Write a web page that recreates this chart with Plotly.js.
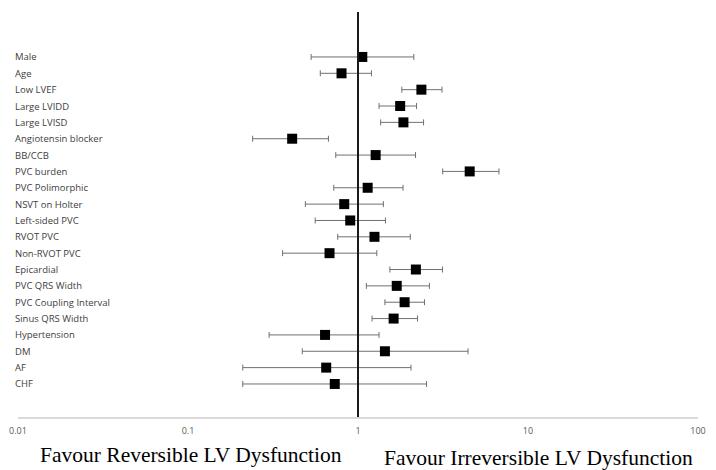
<!DOCTYPE html>
<html>
<head>
<meta charset="utf-8">
<script src="https://cdn.plot.ly/plotly-3.0.1.min.js"></script>
<style>html,body{margin:0;padding:0;background:#fff;}#chart{width:716px;height:470px;}</style>
</head>
<body>
<div id="chart"></div>
<script>
const labels = ["Male","Age","Low LVEF","Large LVIDD","Large LVISD","Angiotensin blocker","BB/CCB","PVC burden","PVC Polimorphic","NSVT on Holter","Left-sided PVC","RVOT PVC","Non-RVOT PVC","Epicardial","PVC QRS Width","PVC Coupling Interval","Sinus QRS Width","Hypertension","DM","AF","CHF"];
const orValues = [1.06,0.80,2.36,1.77,1.85,0.41,1.27,4.54,1.14,0.83,0.90,1.25,0.68,2.19,1.69,1.88,1.62,0.64,1.44,0.65,0.73];
const ciLow    = [0.53,0.60,1.81,1.33,1.36,0.24,0.74,3.15,0.72,0.49,0.56,0.76,0.36,1.54,1.12,1.44,1.21,0.30,0.47,0.21,0.21];
const ciHigh   = [2.13,1.20,3.12,2.21,2.43,0.67,2.18,6.75,1.84,1.41,1.45,2.03,1.29,3.14,2.63,2.46,2.24,1.33,4.44,2.05,2.53];
const tickVals = [0.01,0.1,1,10,100];
const tickText = ["0.01","0.1","1","10","100"];
const leftCaption = "Favour Reversible LV Dysfunction";
const rightCaption = "Favour Irreversible LV Dysfunction";

const rows = labels.map((_, i) => i);
const trace = {
  type: 'scatter', mode: 'markers',
  x: orValues, y: rows,
  marker: {symbol: 'square', size: 10, color: '#000'},
  error_x: {
    type: 'data', symmetric: false,
    array: orValues.map((v, i) => ciHigh[i] - v),
    arrayminus: orValues.map((v, i) => v - ciLow[i]),
    color: '#707070', thickness: 1, width: 3
  },
  hoverinfo: 'none', cliponaxis: false
};

const annotations = labels.map((t, i) => ({
  text: t, xref: 'paper', x: -0.008, xanchor: 'left', yref: 'y', y: i, yanchor: 'middle',
  showarrow: false, font: {family: 'Open Sans, sans-serif', size: 9.5, color: '#404040'}
}));
annotations.push({text: leftCaption, xref: 'paper', yref: 'paper', x: 0.029, y: -0.094, xanchor: 'left', yanchor: 'middle',
  showarrow: false, font: {family: 'Liberation Serif, Times New Roman, serif', size: 21.5, color: '#000'}});
annotations.push({text: rightCaption, xref: 'paper', yref: 'paper', x: 0.536, y: -0.1, xanchor: 'left', yanchor: 'middle',
  showarrow: false, font: {family: 'Liberation Serif, Times New Roman, serif', size: 21.5, color: '#000'}});

const layout = {
  width: 716, height: 470,
  margin: {l: 18, r: 18, t: 12, b: 53},
  paper_bgcolor: '#fff', plot_bgcolor: '#fff',
  showlegend: false,
  xaxis: {
    type: 'log', range: [-2, 2],
    tickvals: tickVals, ticktext: tickText,
    showgrid: false, zeroline: false,
    showline: true, linecolor: '#d9d9d9', linewidth: 2,
    ticks: '', ticklen: 0, ticklabelstandoff: 4,
    tickfont: {family: 'Open Sans, sans-serif', size: 9, color: '#595959'}
  },
  yaxis: {
    range: [22.02, -2.75],
    showgrid: false, zeroline: false, showline: false,
    showticklabels: false, ticks: ''
  },
  shapes: [{type: 'line', xref: 'x', x0: 1, x1: 1, yref: 'paper', y0: 0, y1: 1,
    line: {color: '#1a1a1a', width: 2}}],
  annotations: annotations
};

Plotly.newPlot('chart', [trace], layout, {staticPlot: true, displayModeBar: false});
</script>
</body>
</html>
